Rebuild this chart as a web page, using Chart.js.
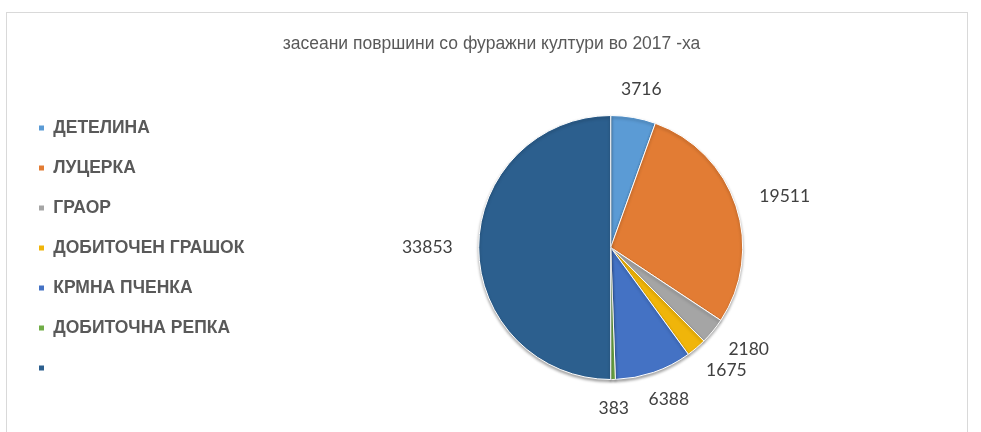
<!DOCTYPE html>
<html>
<head>
<meta charset="utf-8">
<script src="https://cdn.jsdelivr.net/npm/chart.js@4/dist/chart.umd.min.js"></script>
<style>
    html, body { margin: 0; padding: 0; background: #fff; overflow: hidden; }
    #frame { position: absolute; left: 6px; top: 12px; width: 960px; height: 440px; border: 1px solid #d9d9d9; }
    #wrap { position: absolute; left: 0; top: 0; width: 981px; height: 432px; }
</style>
</head>
<body>
<div id="frame"></div>
<div id="wrap"><canvas id="pieChart"></canvas></div>
<script>
// ---- data ----
const cropLabels = ['ДЕТЕЛИНА', 'ЛУЦЕРКА', 'ГРАОР', 'ДОБИТОЧЕН ГРАШОК', 'КРМНА ПЧЕНКА', 'ДОБИТОЧНА РЕПКА', ''];
const areaValues = [3716, 19511, 2180, 1675, 6388, 383, 33853];
const sliceColors = ['#5B9BD5', '#E27C34', '#A5A5A5', '#F0B50A', '#4472C4', '#70AD47', '#2C5F8E'];
const chartTitle = 'засеани површини со фуражни култури во 2017 -ха';

// soft shadow under the pie, like the office chart
const pieShadow = {
    id: 'pieShadow',
    beforeDatasetsDraw(chart) {
        const c = chart.ctx;
        c.save();
        c.shadowColor = 'rgba(0, 0, 0, 0.35)';
        c.shadowBlur = 3;
        c.shadowOffsetY = 2;
    },
    afterDatasetsDraw(chart) {
        chart.ctx.restore();
    }
};

// labels outside the end of each slice
const outsideLabels = {
    id: 'outsideLabels',
    afterDatasetsDraw(chart) {
        const ctx = chart.ctx;
        const meta = chart.getDatasetMeta(0);
        ctx.save();
        ctx.font = '17.5px Lato, "Open Sans", sans-serif';
        ctx.fillStyle = '#404040';
        ctx.textAlign = 'center';
        ctx.textBaseline = 'middle';
        meta.data.forEach((arc, i) => {
            const mid = (arc.startAngle + arc.endAngle) / 2;
            const cos = Math.cos(mid), sin = Math.sin(mid);
            const txt = String(areaValues[i]);
            const w = ctx.measureText(txt).width;
            const h = 18;
            const x = arc.x + cos * (arc.outerRadius + 26) + cos * w / 2;
            const y = arc.y + sin * (arc.outerRadius + 20) + sin * h / 2;
            ctx.fillText(txt, x, y);
        });
        ctx.restore();
    }
};

const ctx = document.getElementById('pieChart').getContext('2d');
new Chart(ctx, {
    type: 'pie',
    data: {
        labels: cropLabels,
        datasets: [{
            data: areaValues,
            backgroundColor: sliceColors,
            borderColor: '#ffffff',
            borderWidth: 1
        }]
    },
    options: {
        responsive: true,
        maintainAspectRatio: false,
        animation: false,
        radius: 132,
        layout: { padding: { left: 16, right: 14, top: 0, bottom: 20 } },
        plugins: {
            title: {
                display: true,
                text: chartTitle,
                color: '#595959',
                font: { family: '"Liberation Sans Narrow", "Arial Narrow", "Liberation Sans", sans-serif', size: 17.5, weight: 'normal' },
                padding: { top: 34, bottom: 28 }
            },
            legend: {
                position: 'left',
                align: 'start',
                title: {
                    display: true,
                    text: ' ',
                    font: { size: 10 },
                    padding: { top: 84.75, bottom: 0 }
                },
                labels: {
                    color: '#595959',
                    font: { family: '"Liberation Sans", Arial, sans-serif', size: 17.5, weight: 'bold' },
                    boxWidth: 6,
                    boxHeight: 6,
                    padding: 22.5
                }
            },
            tooltip: { enabled: false }
        }
    },
    plugins: [pieShadow, outsideLabels]
});
</script>
</body>
</html>
